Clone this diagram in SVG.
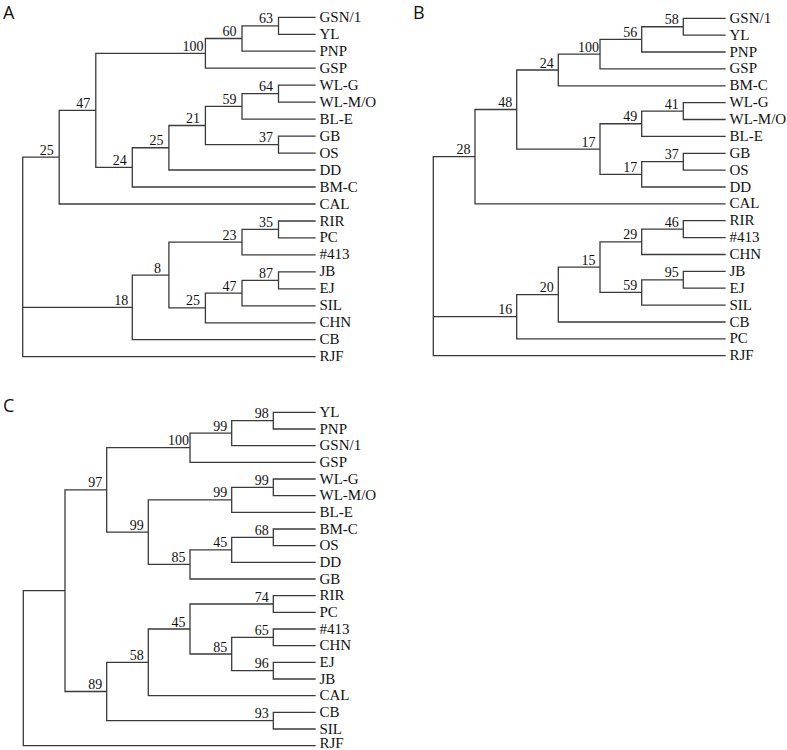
<svg xmlns="http://www.w3.org/2000/svg" width="787" height="750" viewBox="0 0 787 750">
<style>
.e{fill:none;stroke:#3a3a3a;stroke-width:1.3;stroke-linecap:square}
.lf{font-family:"Liberation Serif","Times New Roman",serif;font-size:15px;fill:#111}
.bs{font-family:"Liberation Serif","Times New Roman",serif;font-size:14px;fill:#111;text-anchor:middle}
.pl{font-family:"Open Sans","DejaVu Sans",sans-serif;font-size:18px;fill:#111}
</style>
<rect width="787" height="750" fill="#fff"/>
<g id="panel-labels">
<text class="pl" x="3" y="19">A</text>
<text class="pl" x="413" y="19">B</text>
<text class="pl" x="3" y="412">C</text>
</g>
<g id="connectors">
<path class="e" d="M22.7,157.2V356.7M22.7,157.2H59.2M22.7,307.4H132.3M22.7,356.7H315
M59.2,110.4V204M59.2,110.4H95.8M59.2,204H315
M95.8,53.35V167.4M95.8,53.35H205.4M95.8,167.4H132.3
M205.4,38.5V68.2M205.4,38.5H242M205.4,68.2H315
M242,25.8V51.2M242,25.8H278.5M242,51.2H315
M278.5,17.3V34.3M278.5,17.3H315M278.5,34.3H315
M132.3,147.75V187M132.3,147.75H168.9M132.3,187H315
M168.9,125.5V170M168.9,125.5H205.4M168.9,170H315
M205.4,106.4V144.6M205.4,106.4H242M205.4,144.6H278.5
M242,93.7V119.1M242,93.7H278.5M242,119.1H315
M278.5,85.2V102.2M278.5,85.2H315M278.5,102.2H315
M278.5,136.1V153.1M278.5,136.1H315M278.5,153.1H315
M132.3,275.1V339.7M132.3,275.1H168.9M132.3,339.7H315
M168.9,242.2V307.95M168.9,242.2H242M168.9,307.95H205.4
M242,229.45V254.9M242,229.45H278.5M242,254.9H315
M278.5,221V237.9M278.5,221H315M278.5,237.9H315
M205.4,293.1V322.8M205.4,293.1H242M205.4,322.8H315
M242,280.35V305.8M242,280.35H278.5M242,305.8H315
M278.5,271.9V288.8M278.5,271.9H315M278.5,288.8H315"/>
<path class="e" d="M433.3,156.7V355.7M433.3,156.7H475M433.3,316.7H516.7M433.3,355.7H725
M475,109.5V203.9M475,109.5H516.7M475,203.9H725
M516.7,70V149.05M516.7,70H558.3M516.7,149.05H600
M558.3,54.15V85.8M558.3,54.15H600M558.3,85.8H725
M600,39.4V68.9M600,39.4H641.7M600,68.9H725
M641.7,26.75V52M641.7,26.75H683.3M641.7,52H725
M683.3,18.3V35.2M683.3,18.3H725M683.3,35.2H725
M600,123.75V174.35M600,123.75H641.7M600,174.35H641.7
M641.7,111.1V136.4M641.7,111.1H683.3M641.7,136.4H725
M683.3,102.7V119.5M683.3,102.7H725M683.3,119.5H725
M641.7,161.7V187M641.7,161.7H683.3M641.7,187H725
M683.3,153.3V170.1M683.3,153.3H725M683.3,170.1H725
M516.7,294.55V338.8M516.7,294.55H558.3M516.7,338.8H725
M558.3,267.1V322M558.3,267.1H600M558.3,322H725
M600,241.8V292.45M600,241.8H641.7M600,292.45H641.7
M641.7,229.15V254.5M641.7,229.15H683.3M641.7,254.5H725
M683.3,220.7V237.6M683.3,220.7H725M683.3,237.6H725
M641.7,279.8V305.1M641.7,279.8H683.3M641.7,305.1H725
M683.3,271.4V288.2M683.3,271.4H725M683.3,288.2H725"/>
<path class="e" d="M23.3,590.7V745.7M23.3,590.7H65M23.3,745.7H315
M65,489.9V691.5M65,489.9H106.7M65,691.5H106.7
M106.7,447.7V532.1M106.7,447.7H190M106.7,532.1H148.3
M190,433.1V462.3M190,433.1H231.7M190,462.3H315
M231.7,420.65V445.6M231.7,420.65H273.3M231.7,445.6H315
M273.3,412.3V429M273.3,412.3H315M273.3,429H315
M148.3,499.8V564.4M148.3,499.8H231.7M148.3,564.4H190
M231.7,487.35V512.3M231.7,487.35H273.3M231.7,512.3H315
M273.3,479V495.7M273.3,479H315M273.3,495.7H315
M190,549.8V579M190,549.8H231.7M190,579H315
M231.7,537.35V562.3M231.7,537.35H273.3M231.7,562.3H315
M273.3,529V545.7M273.3,529H315M273.3,545.7H315
M106.7,662.35V720.7M106.7,662.35H148.3M106.7,720.7H273.3
M148.3,629V695.7M148.3,629H190M148.3,695.7H315
M190,604V654M190,604H273.3M190,654H231.7
M273.3,595.7V612.3M273.3,595.7H315M273.3,612.3H315
M231.7,637.35V670.7M231.7,637.35H273.3M231.7,670.7H273.3
M273.3,629V645.7M273.3,629H315M273.3,645.7H315
M273.3,662.4V679M273.3,662.4H315M273.3,679H315
M273.3,712.4V729M273.3,712.4H315M273.3,729H315"/>
</g>
<g id="tree-A">
<g id="A-GSN1"><text class="lf" x="319.5" y="21.8">GSN/1</text></g>
<g id="A-YL"><text class="lf" x="319.5" y="38.8">YL</text></g>
<g id="A-PNP"><text class="lf" x="319.5" y="55.7">PNP</text></g>
<g id="A-GSP"><text class="lf" x="319.5" y="72.7">GSP</text></g>
<g id="A-WLG"><text class="lf" x="319.5" y="89.7">WL-G</text></g>
<g id="A-WLMO"><text class="lf" x="319.5" y="106.7">WL-M/O</text></g>
<g id="A-BLE"><text class="lf" x="319.5" y="123.6">BL-E</text></g>
<g id="A-GB"><text class="lf" x="319.5" y="140.6">GB</text></g>
<g id="A-OS"><text class="lf" x="319.5" y="157.6">OS</text></g>
<g id="A-DD"><text class="lf" x="319.5" y="174.5">DD</text></g>
<g id="A-BMC"><text class="lf" x="319.5" y="191.5">BM-C</text></g>
<g id="A-CAL"><text class="lf" x="319.5" y="208.5">CAL</text></g>
<g id="A-RIR"><text class="lf" x="319.5" y="225.5">RIR</text></g>
<g id="A-PC"><text class="lf" x="319.5" y="242.4">PC</text></g>
<g id="A-413"><text class="lf" x="319.5" y="259.4">#413</text></g>
<g id="A-JB"><text class="lf" x="319.5" y="276.4">JB</text></g>
<g id="A-EJ"><text class="lf" x="319.5" y="293.3">EJ</text></g>
<g id="A-SIL"><text class="lf" x="319.5" y="310.3">SIL</text></g>
<g id="A-CHN"><text class="lf" x="319.5" y="327.3">CHN</text></g>
<g id="A-CB"><text class="lf" x="319.5" y="344.2">CB</text></g>
<g id="A-RJF"><text class="lf" x="319.5" y="361.2">RJF</text></g>
<g id="A-n63"><text class="bs" x="266" y="23.3">63</text></g>
<g id="A-n60"><text class="bs" x="229.5" y="36">60</text></g>
<g id="A-n100"><text class="bs" x="192.9" y="50.85">100</text></g>
<g id="A-n64"><text class="bs" x="266" y="91.2">64</text></g>
<g id="A-n59"><text class="bs" x="229.5" y="103.9">59</text></g>
<g id="A-n37"><text class="bs" x="266" y="142.1">37</text></g>
<g id="A-n21"><text class="bs" x="192.9" y="123">21</text></g>
<g id="A-n25b"><text class="bs" x="156.4" y="145.25">25</text></g>
<g id="A-n24"><text class="bs" x="119.8" y="164.9">24</text></g>
<g id="A-n47"><text class="bs" x="83.3" y="107.9">47</text></g>
<g id="A-n25"><text class="bs" x="46.7" y="154.7">25</text></g>
<g id="A-n35"><text class="bs" x="266" y="226.95">35</text></g>
<g id="A-n23"><text class="bs" x="229.5" y="239.7">23</text></g>
<g id="A-n87"><text class="bs" x="266" y="277.85">87</text></g>
<g id="A-n47b"><text class="bs" x="229.5" y="290.6">47</text></g>
<g id="A-n25c"><text class="bs" x="192.9" y="305.45">25</text></g>
<g id="A-n8"><text class="bs" x="157.4" y="272.6">8</text></g>
<g id="A-n18"><text class="bs" x="121.3" y="304.9">18</text></g>
</g>
<g id="tree-B">
<g id="B-GSN1"><text class="lf" x="729.5" y="22.8">GSN/1</text></g>
<g id="B-YL"><text class="lf" x="729.5" y="39.7">YL</text></g>
<g id="B-PNP"><text class="lf" x="729.5" y="56.5">PNP</text></g>
<g id="B-GSP"><text class="lf" x="729.5" y="73.4">GSP</text></g>
<g id="B-BMC"><text class="lf" x="729.5" y="90.3">BM-C</text></g>
<g id="B-WLG"><text class="lf" x="729.5" y="107.2">WL-G</text></g>
<g id="B-WLMO"><text class="lf" x="729.5" y="124">WL-M/O</text></g>
<g id="B-BLE"><text class="lf" x="729.5" y="140.9">BL-E</text></g>
<g id="B-GB"><text class="lf" x="729.5" y="157.8">GB</text></g>
<g id="B-OS"><text class="lf" x="729.5" y="174.6">OS</text></g>
<g id="B-DD"><text class="lf" x="729.5" y="191.5">DD</text></g>
<g id="B-CAL"><text class="lf" x="729.5" y="208.4">CAL</text></g>
<g id="B-RIR"><text class="lf" x="729.5" y="225.2">RIR</text></g>
<g id="B-413"><text class="lf" x="729.5" y="242.1">#413</text></g>
<g id="B-CHN"><text class="lf" x="729.5" y="259">CHN</text></g>
<g id="B-JB"><text class="lf" x="729.5" y="275.9">JB</text></g>
<g id="B-EJ"><text class="lf" x="729.5" y="292.7">EJ</text></g>
<g id="B-SIL"><text class="lf" x="729.5" y="309.6">SIL</text></g>
<g id="B-CB"><text class="lf" x="729.5" y="326.5">CB</text></g>
<g id="B-PC"><text class="lf" x="729.5" y="343.3">PC</text></g>
<g id="B-RJF"><text class="lf" x="729.5" y="360.2">RJF</text></g>
<g id="B-n58"><text class="bs" x="671.8" y="24.25">58</text></g>
<g id="B-n56"><text class="bs" x="630.2" y="36.9">56</text></g>
<g id="B-n100"><text class="bs" x="588.5" y="51.65">100</text></g>
<g id="B-n24"><text class="bs" x="546.8" y="67.5">24</text></g>
<g id="B-n48"><text class="bs" x="505.2" y="107">48</text></g>
<g id="B-n28"><text class="bs" x="463.5" y="154.2">28</text></g>
<g id="B-n41"><text class="bs" x="671.8" y="108.6">41</text></g>
<g id="B-n49"><text class="bs" x="630.2" y="121.25">49</text></g>
<g id="B-n17"><text class="bs" x="588.5" y="146.55">17</text></g>
<g id="B-n37"><text class="bs" x="671.8" y="159.2">37</text></g>
<g id="B-n17b"><text class="bs" x="630.2" y="171.85">17</text></g>
<g id="B-n46"><text class="bs" x="671.8" y="226.65">46</text></g>
<g id="B-n29"><text class="bs" x="630.2" y="239.3">29</text></g>
<g id="B-n15"><text class="bs" x="588.5" y="264.6">15</text></g>
<g id="B-n95"><text class="bs" x="671.8" y="277.3">95</text></g>
<g id="B-n59"><text class="bs" x="630.2" y="289.95">59</text></g>
<g id="B-n20"><text class="bs" x="546.8" y="292.05">20</text></g>
<g id="B-n16"><text class="bs" x="505.2" y="314.2">16</text></g>
</g>
<g id="tree-C">
<g id="C-YL"><text class="lf" x="319.5" y="416.8">YL</text></g>
<g id="C-PNP"><text class="lf" x="319.5" y="433.5">PNP</text></g>
<g id="C-GSN1"><text class="lf" x="319.5" y="450.1">GSN/1</text></g>
<g id="C-GSP"><text class="lf" x="319.5" y="466.8">GSP</text></g>
<g id="C-WLG"><text class="lf" x="319.5" y="483.5">WL-G</text></g>
<g id="C-WLMO"><text class="lf" x="319.5" y="500.2">WL-M/O</text></g>
<g id="C-BLE"><text class="lf" x="319.5" y="516.8">BL-E</text></g>
<g id="C-BMC"><text class="lf" x="319.5" y="533.5">BM-C</text></g>
<g id="C-OS"><text class="lf" x="319.5" y="550.2">OS</text></g>
<g id="C-DD"><text class="lf" x="319.5" y="566.8">DD</text></g>
<g id="C-GB"><text class="lf" x="319.5" y="583.5">GB</text></g>
<g id="C-RIR"><text class="lf" x="319.5" y="600.2">RIR</text></g>
<g id="C-PC"><text class="lf" x="319.5" y="616.8">PC</text></g>
<g id="C-413"><text class="lf" x="319.5" y="633.5">#413</text></g>
<g id="C-CHN"><text class="lf" x="319.5" y="650.2">CHN</text></g>
<g id="C-EJ"><text class="lf" x="319.5" y="666.9">EJ</text></g>
<g id="C-JB"><text class="lf" x="319.5" y="683.5">JB</text></g>
<g id="C-CAL"><text class="lf" x="319.5" y="700.2">CAL</text></g>
<g id="C-CB"><text class="lf" x="319.5" y="716.9">CB</text></g>
<g id="C-SIL"><text class="lf" x="319.5" y="733.5">SIL</text></g>
<g id="C-RJF"><text class="lf" x="319.5" y="748.2" font-size="14.5">RJF</text></g>
<g id="C-n98"><text class="bs" x="261.8" y="418.15">98</text></g>
<g id="C-n99a"><text class="bs" x="220.2" y="430.6">99</text></g>
<g id="C-n100"><text class="bs" x="178.5" y="445.2">100</text></g>
<g id="C-n97"><text class="bs" x="95.2" y="487.4">97</text></g>
<g id="C-n99d"><text class="bs" x="261.8" y="484.85">99</text></g>
<g id="C-n99c"><text class="bs" x="220.2" y="497.3">99</text></g>
<g id="C-n99b"><text class="bs" x="136.8" y="529.6">99</text></g>
<g id="C-n68"><text class="bs" x="261.8" y="534.85">68</text></g>
<g id="C-n45"><text class="bs" x="220.2" y="547.3">45</text></g>
<g id="C-n85"><text class="bs" x="178.5" y="561.9">85</text></g>
<g id="C-n74"><text class="bs" x="261.8" y="601.5">74</text></g>
<g id="C-n65"><text class="bs" x="261.8" y="634.85">65</text></g>
<g id="C-n96"><text class="bs" x="261.8" y="668.2">96</text></g>
<g id="C-n85b"><text class="bs" x="220.2" y="651.5">85</text></g>
<g id="C-n45b"><text class="bs" x="178.5" y="626.5">45</text></g>
<g id="C-n58"><text class="bs" x="136.8" y="659.85">58</text></g>
<g id="C-n93"><text class="bs" x="261.8" y="718.2">93</text></g>
<g id="C-n89"><text class="bs" x="95.2" y="689">89</text></g>
</g>
</svg>
